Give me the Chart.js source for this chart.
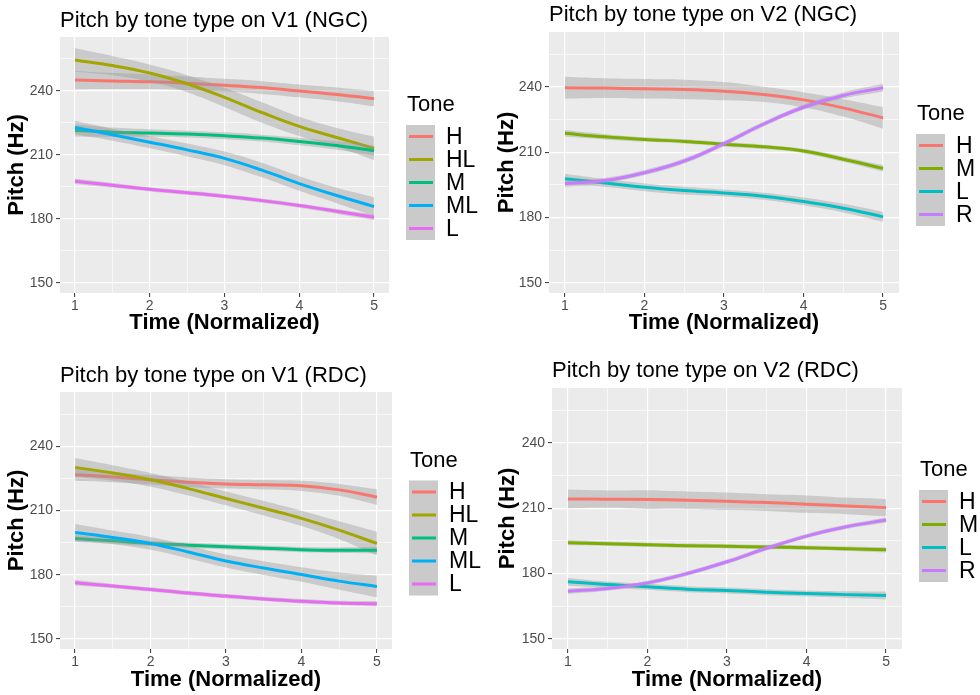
<!DOCTYPE html>
<html>
<head>
<meta charset="utf-8">
<script src="https://cdn.jsdelivr.net/npm/chart.js@4.4.1/dist/chart.umd.min.js"></script>
<style>
  html, body { margin: 0; padding: 0; background: #fff; }
  body { width: 980px; height: 695px; position: relative; overflow: hidden; }
  .cell { position: absolute; }
</style>
</head>
<body>
<div class="cell" style="left:0;top:0;width:490px;height:345px"><canvas id="p1"></canvas></div>
<div class="cell" style="left:490px;top:0;width:490px;height:345px"><canvas id="p2"></canvas></div>
<div class="cell" style="left:0;top:345px;width:490px;height:350px"><canvas id="p3"></canvas></div>
<div class="cell" style="left:490px;top:345px;width:490px;height:350px"><canvas id="p4"></canvas></div>
<script>
const FONT = '"Liberation Sans", Arial, sans-serif';

// normalized time points and axis breaks
const time = [1, 1.5, 2, 2.5, 3, 3.5, 4, 4.5, 5];
const xGrid = [1, 1.5, 2, 2.5, 3, 3.5, 4, 4.5, 5];
const xLabels = [1, 2, 3, 4, 5];
const yGrid = [150, 165, 180, 195, 210, 225, 240, 255];
const yLabels = [150, 180, 210, 240];

const tones5 = ['H', 'HL', 'M', 'ML', 'L'];
const tones4 = ['H', 'M', 'L', 'R'];
const colors5 = ['#F8766D', '#A3A500', '#00BF7D', '#00B0F6', '#E76BF3'];
const colors4 = ['#F8766D', '#7CAE00', '#00BFC4', '#C77CFF'];

// V1 (NGC): smoothed pitch and half-width of the confidence band
const v1ngcH  = [245.1, 244.7, 244.3, 243.6, 242.7, 241.6, 240.0, 238.4, 236.4];
const v1ngcHL = [254.5, 251.9, 248.4, 243.4, 237.0, 229.9, 223.4, 218.2, 213.1];
const v1ngcM  = [221.5, 220.7, 220.3, 219.8, 219.0, 217.9, 216.3, 214.4, 212.0];
const v1ngcML = [222.9, 219.5, 216.0, 212.4, 208.4, 202.9, 196.6, 191.0, 185.8];
const v1ngcL  = [197.7, 195.8, 193.9, 192.3, 190.6, 188.6, 186.3, 183.6, 180.8];
const v1ngcHse  = [4.3, 3.8, 3.4, 3.2, 3.0, 3.0, 3.0, 3.2, 3.6];
const v1ngcHLse = [5.5, 4.5, 4.0, 4.0, 4.5, 4.8, 4.5, 4.5, 5.5];
const v1ngcMse  = [2.8, 2.2, 1.8, 1.6, 1.6, 1.6, 1.8, 2.0, 2.4];
const v1ngcMLse = [3.2, 2.8, 2.8, 3.0, 3.2, 3.4, 3.4, 3.6, 4.4];
const v1ngcLse  = [1.3, 1.1, 1.0, 1.0, 1.0, 1.0, 1.0, 1.1, 1.3];

// V2 (NGC)
const v2ngcH = [239.7, 239.5, 239.2, 238.9, 238.1, 236.6, 234.1, 230.4, 225.8];
const v2ngcM = [218.7, 217.1, 215.9, 215.0, 213.7, 212.5, 210.6, 206.8, 202.6];
const v2ngcL = [197.8, 195.9, 193.9, 192.4, 191.3, 189.8, 187.4, 184.3, 180.3];
const v2ngcR = [195.6, 197.0, 200.6, 206.0, 214.0, 223.0, 230.7, 236.1, 239.7];
const v2ngcHse = [5.0, 4.5, 4.5, 4.5, 4.2, 3.5, 3.5, 4.0, 5.0];
const v2ngcMse = [1.5, 1.2, 1.0, 1.0, 1.0, 1.0, 1.0, 1.2, 1.5];
const v2ngcLse = [2.3, 1.8, 1.8, 1.8, 1.6, 1.6, 1.8, 2.0, 2.3];
const v2ngcRse = [1.5, 1.2, 1.2, 1.2, 1.2, 1.2, 1.2, 1.4, 1.8];

// V1 (RDC)
const v1rdcH  = [226.7, 225.6, 224.3, 223.2, 222.4, 222.0, 221.5, 219.6, 216.2];
const v1rdcHL = [230.1, 227.5, 224.3, 220.2, 215.6, 211.0, 206.3, 200.8, 194.6];
const v1rdcM  = [196.9, 195.8, 194.6, 193.8, 193.0, 192.4, 191.7, 191.4, 191.4];
const v1rdcML = [199.7, 197.4, 194.6, 190.6, 186.4, 183.1, 180.1, 177.0, 174.5];
const v1rdcL  = [176.2, 174.7, 173.1, 171.4, 170.0, 168.7, 167.6, 166.8, 166.4];
const v1rdcHse  = [2.8, 2.4, 2.2, 2.2, 2.2, 2.2, 2.4, 2.8, 3.7];
const v1rdcHLse = [4.4, 3.6, 3.2, 3.2, 3.2, 3.4, 3.6, 4.2, 5.5];
const v1rdcMse  = [1.6, 1.3, 1.2, 1.2, 1.2, 1.2, 1.2, 1.3, 1.6];
const v1rdcMLse = [4.0, 3.2, 3.0, 3.0, 3.0, 3.2, 3.4, 4.0, 5.0];
const v1rdcLse  = [1.3, 1.0, 1.0, 1.0, 1.0, 1.0, 1.0, 1.0, 1.3];

// V2 (RDC)
const v2rdcH = [214.3, 214.2, 214.0, 213.7, 213.2, 212.6, 211.9, 211.1, 210.3];
const v2rdcM = [194.2, 193.7, 193.2, 192.8, 192.5, 192.2, 191.9, 191.4, 190.9];
const v2rdcL = [176.2, 174.9, 173.9, 172.8, 172.2, 171.4, 170.8, 170.3, 169.9];
const v2rdcR = [171.9, 173.1, 175.7, 180.0, 185.4, 191.6, 197.2, 201.5, 204.6];
const v2rdcHse = [4.3, 4.0, 4.3, 4.0, 4.0, 3.8, 4.0, 3.8, 4.0];
const v2rdcMse = [1.2, 1.0, 1.0, 1.0, 1.0, 1.0, 1.0, 1.0, 1.2];
const v2rdcLse = [1.8, 1.4, 1.4, 1.4, 1.4, 1.4, 1.4, 1.5, 1.8];
const v2rdcRse = [1.2, 1.0, 1.0, 1.0, 1.0, 1.0, 1.0, 1.0, 1.2];

const RIBBON = 'rgba(153,153,153,0.4)';

// grey panel behind the grid
const panelBg = {
  id: 'panelBg',
  beforeDraw(chart) {
    const { ctx, chartArea: a } = chart;
    ctx.save();
    ctx.fillStyle = '#EBEBEB';
    ctx.fillRect(a.left, a.top, a.right - a.left, a.bottom - a.top);
    ctx.restore();
  }
};

// "Tone" key to the right of the panel, centred on it
const toneKey = {
  id: 'toneKey',
  afterDraw(chart, args, opts) {
    const { ctx, chartArea: a } = chart;
    const n = opts.tones.length;
    const rowH = 23, keyW = 29;
    const mid = (a.top + a.bottom) / 2;
    const boxTop = mid - (30 + n * rowH) / 2 + 32.5;
    const x0 = a.right + 17;
    ctx.save();
    ctx.textBaseline = 'middle';
    ctx.textAlign = 'left';
    ctx.fillStyle = '#000';
    ctx.font = '22px ' + FONT;
    ctx.fillText('Tone', x0 + 1, boxTop - 20);
    ctx.fillStyle = '#EBEBEB';
    ctx.fillRect(x0, boxTop, keyW, n * rowH);
    ctx.fillStyle = RIBBON;
    ctx.fillRect(x0, boxTop, keyW, n * rowH);
    ctx.font = '23px ' + FONT;
    opts.tones.forEach((t, i) => {
      const y = boxTop + rowH * (i + 0.5);
      ctx.strokeStyle = opts.colors[i];
      ctx.lineWidth = 3;
      ctx.beginPath();
      ctx.moveTo(x0 + 3, y);
      ctx.lineTo(x0 + keyW - 2, y);
      ctx.stroke();
      ctx.fillStyle = '#000';
      ctx.fillText(t, x0 + 40, y + 1);
    });
    ctx.restore();
  }
};

const pts = vals => time.map((t, i) => ({ x: t, y: vals[i] }));
const shift = (vals, se, s) => vals.map((v, i) => v + s * se[i]);

function makePanel(id, title, tones, colors, series, bands, g) {
  const datasets = [];
  series.forEach((vals, k) => {
    const base = 100 - 3 * k;
    const common = { pointRadius: 0, tension: 0.4 };
    datasets.push({ ...common, data: pts(shift(vals, bands[k], -1)), borderColor: 'transparent', borderWidth: 0, fill: false, order: base });
    datasets.push({ ...common, data: pts(shift(vals, bands[k], 1)), borderColor: 'transparent', borderWidth: 0,
      backgroundColor: RIBBON, fill: '-1', order: base - 1 });
    datasets.push({ ...common, label: tones[k], data: pts(vals), borderColor: colors[k], borderWidth: 3, fill: false, order: base - 2 });
  });

  const isMajorY = v => yLabels.includes(v);
  const isMajorX = v => xLabels.includes(v);

  new Chart(document.getElementById(id), {
    type: 'line',
    data: { datasets },
    plugins: [panelBg, toneKey],
    options: {
      responsive: true,
      maintainAspectRatio: false,
      animation: false,
      events: [],
      layout: { padding: { top: 0, left: 0, right: g.padRight, bottom: g.padBottom } },
      plugins: {
        legend: { display: false },
        tooltip: { enabled: false },
        title: {
          display: true,
          text: title,
          align: 'start',
          fullSize: false,
          color: '#000',
          font: { family: FONT, size: 22, weight: 'normal', lineHeight: 1.2 },
          padding: g.titlePad
        },
        toneKey: { tones, colors }
      },
      scales: {
        x: {
          type: 'linear',
          min: 0.8,
          max: 5.2,
          afterBuildTicks: s => { s.ticks = xGrid.map(v => ({ value: v })); },
          afterFit: s => { s.height = 45; },
          border: { display: false },
          grid: {
            color: '#FFFFFF',
            lineWidth: c => (c.tick && isMajorX(c.tick.value)) ? 1.2 : 0.6,
            tickLength: 4,
            tickWidth: 1,
            tickColor: c => (c.tick && isMajorX(c.tick.value)) ? '#333333' : 'transparent'
          },
          ticks: {
            autoSkip: false,
            maxRotation: 0,
            padding: 1,
            color: '#4D4D4D',
            font: { family: FONT, size: 14 },
            callback: v => isMajorX(v) ? String(v) : ''
          },
          title: {
            display: true,
            text: 'Time (Normalized)',
            color: '#000',
            font: { family: FONT, size: 22, weight: 'bold', lineHeight: 1.2 },
            padding: { top: 0, bottom: g.xTitlePad }
          }
        },
        y: {
          type: 'linear',
          min: 145.3,
          max: 265.3,
          afterBuildTicks: s => { s.ticks = yGrid.map(v => ({ value: v })); },
          afterFit: s => { s.width = g.yW; },
          border: { display: false },
          grid: {
            color: '#FFFFFF',
            lineWidth: c => (c.tick && isMajorY(c.tick.value)) ? 1.2 : 0.6,
            tickLength: 4,
            tickWidth: 1,
            tickColor: c => (c.tick && isMajorY(c.tick.value)) ? '#333333' : 'transparent'
          },
          ticks: {
            autoSkip: false,
            padding: 3,
            color: '#4D4D4D',
            font: { family: FONT, size: 14 },
            callback: v => isMajorY(v) ? String(v) : ''
          },
          title: {
            display: true,
            text: 'Pitch (Hz)',
            color: '#000',
            font: { family: FONT, size: 22, weight: 'bold', lineHeight: 1.2 },
            padding: { top: g.yTitlePad, bottom: 0 }
          }
        }
      }
    }
  });
}

makePanel('p1', 'Pitch by tone type on V1 (NGC)', tones5, colors5,
  [v1ngcH, v1ngcHL, v1ngcM, v1ngcML, v1ngcL],
  [v1ngcHse, v1ngcHLse, v1ngcMse, v1ngcMLse, v1ngcLse],
  { titlePad: { top: 8, bottom: 2.6 }, padRight: 101, padBottom: 7, yW: 60, yTitlePad: 3.8, xTitlePad: 1.8 });

makePanel('p2', 'Pitch by tone type on V2 (NGC)', tones4, colors4,
  [v2ngcH, v2ngcM, v2ngcL, v2ngcR],
  [v2ngcHse, v2ngcMse, v2ngcLse, v2ngcRse],
  { titlePad: { top: 2, bottom: 3.6 }, padRight: 81, padBottom: 7, yW: 59, yTitlePad: 3.8, xTitlePad: 1.8 });

makePanel('p3', 'Pitch by tone type on V1 (RDC)', tones5, colors5,
  [v1rdcH, v1rdcHL, v1rdcM, v1rdcML, v1rdcL],
  [v1rdcHse, v1rdcHLse, v1rdcMse, v1rdcMLse, v1rdcLse],
  { titlePad: { top: 18, bottom: 2.6 }, padRight: 98, padBottom: 1, yW: 60, yTitlePad: 3.8, xTitlePad: 0.8 });

makePanel('p4', 'Pitch by tone type on V2 (RDC)', tones4, colors4,
  [v2rdcH, v2rdcM, v2rdcL, v2rdcR],
  [v2rdcHse, v2rdcMse, v2rdcLse, v2rdcRse],
  { titlePad: { top: 13, bottom: 3.6 }, padRight: 78, padBottom: 1, yW: 62, yTitlePad: 4.8, xTitlePad: 0.8 });
</script>
</body>
</html>
